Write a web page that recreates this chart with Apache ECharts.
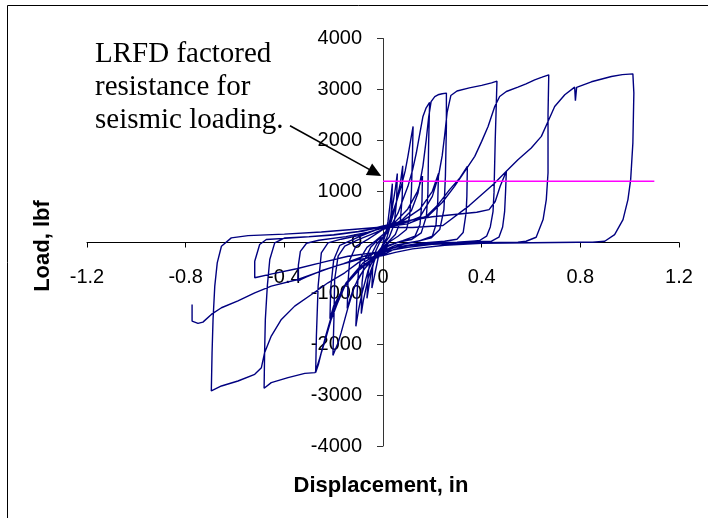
<!DOCTYPE html>
<html>
<head>
<meta charset="utf-8">
<script src="https://cdn.jsdelivr.net/npm/echarts@6/dist/echarts.min.js"></script>
<style>
  html, body { margin: 0; padding: 0; background: #fff; }
  #box { width: 708px; height: 518px; }
</style>
</head>
<body>
<div id="box"></div>
<script>
// displacement (in), load (lbf), one array per cycle
var cycleA = [[0,0],[0.01,150],[0.02,400],[0.03,800],[0.038,1150],[0.035,700],[0.028,300],[0.015,80],[0,-30],
    [-0.015,-200],[-0.03,-550],[-0.045,-900],[-0.042,-500],[-0.032,-200],[-0.015,-20],[0,80],[0.02,250],[0.035,600],
    [0.05,1050],[0.058,1350],[0.055,800],[0.045,350],[0.025,100],[0,-60],[-0.03,-250],[-0.05,-650],[-0.065,-1100],
    [-0.06,-600],[-0.048,-250],[-0.025,-30],[0,100]];
var cycleA2 = [[0,100],[0.03,350],[0.05,700],[0.07,1150],[0.08,1500],[0.078,900],[0.07,400],[0.05,150],[0.02,0],
    [0,-100],[-0.03,-300],[-0.06,-700],[-0.08,-1150],[-0.088,-1400],[-0.085,-800],[-0.075,-350],[-0.05,-100],
    [-0.02,50],[0,100]];
var cycleB = [[0,100],[0.02,200],[0.034,510],[0.055,800],[0.074,1098],[0.09,1400],[0.101,1686],[0.112,2000],[0.122,2274],
    [0.119,1621],[0.115,968],[0.108,510],[0.095,249],[0.061,118],[0.03,20],[0,-120],[-0.03,-250],[-0.06,-550],
    [-0.085,-1000],[-0.1,-1350],[-0.11,-1650],[-0.106,-1100],[-0.1,-600],[-0.09,-300],[-0.065,-100],[-0.03,30],[0,150]];
var cycleC = [[0,150],[0.03,300],[0.061,576],[0.08,830],[0.101,1098],[0.12,1420],[0.135,1752],[0.15,2150],[0.162,2470],
    [0.175,2640],[0.189,2744],[0.185,1948],[0.182,968],[0.176,510],[0.155,184],[0.115,53],[0.06,0],[0.02,-80],[0,-180],
    [-0.04,-330],[-0.08,-550],[-0.115,-862],[-0.14,-1250],[-0.155,-1515],[-0.17,-1780],[-0.182,-1972],[-0.203,-2221],
    [-0.199,-1515],[-0.196,-731],[-0.182,-274],[-0.155,-78],[-0.1,50],[-0.05,150],[0,250]];
var cycleC2 = [[0,250],[0.05,400],[0.1,650],[0.14,1000],[0.16,1300],[0.158,800],[0.15,350],[0.13,120],[0.08,30],
    [0.02,-60],[0,-150],[-0.05,-350],[-0.1,-700],[-0.13,-1050],[-0.145,-1300],[-0.142,-800],[-0.135,-350],
    [-0.11,-80],[-0.06,60],[0,250]];
var cycleD = [[0,250],[0.04,330],[0.08,450],[0.115,620],[0.142,968],[0.162,1500],[0.175,2000],[0.185,2450],[0.195,2760],
    [0.21,2860],[0.223,2895],[0.24,2915],[0.257,2928],[0.257,2274],[0.253,1294],[0.247,641],[0.23,249],[0.196,86],
    [0.14,20],[0.08,-40],[0.03,-130],[0,-220],[-0.05,-360],[-0.1,-560],[-0.155,-862],[-0.185,-1200],[-0.21,-1515],
    [-0.23,-1850],[-0.25,-2168],[-0.262,-2400],[-0.273,-2560],[-0.27,-1842],[-0.263,-862],[-0.25,-208],[-0.223,-12],
    [-0.17,60],[-0.1,130],[-0.04,220],[0,300]];
var cycleD2 = [[0,300],[0.08,420],[0.15,650],[0.2,1000],[0.225,1350],[0.222,800],[0.215,350],[0.2,120],[0.15,30],
    [0.05,-60],[0,-170],[-0.08,-400],[-0.15,-800],[-0.2,-1250],[-0.215,-1500],[-0.212,-900],[-0.2,-350],
    [-0.175,-60],[-0.1,100],[0,300]];
var cycleE = [[0,300],[0.05,330],[0.1,360],[0.176,510],[0.22,720],[0.27,1033],[0.31,1250],[0.342,1490],[0.34,900],
    [0.337,582],[0.325,190],[0.3,60],[0.25,20],[0.15,-20],[0.06,-90],[0,-170],[-0.08,-280],[-0.16,-420],[-0.25,-560],
    [-0.31,-680],[-0.345,-760],[-0.343,-450],[-0.335,-180],[-0.31,-20],[-0.26,40],[-0.15,110],[-0.06,200],[0,280]];
var cycleF = [[0,280],[0.05,330],[0.1,400],[0.15,500],[0.2,900],[0.225,1300],[0.24,1700],[0.25,2100],[0.26,2550],
    [0.275,2880],[0.3,2970],[0.35,3030],[0.4,3080],[0.44,3130],[0.462,3163],[0.458,2500],[0.455,2013],[0.45,974],
    [0.446,600],[0.435,300],[0.42,120],[0.39,30],[0.3,0],[0.2,-20],[0.1,-70],[0.04,-150],[0,-250],[-0.05,-350],
    [-0.1,-520],[-0.15,-800],[-0.2,-1300],[-0.23,-1800],[-0.255,-2250],[-0.275,-2560],[-0.317,-2574],[-0.385,-2658],
    [-0.453,-2756],[-0.482,-2867],[-0.48,-2168],[-0.477,-1515],[-0.469,-862],[-0.459,-339],[-0.439,-12],[-0.398,86],
    [-0.3,110],[-0.2,150],[-0.1,210],[0,300]];
var cycleG = [[0,300],[0.1,420],[0.2,500],[0.3,550],[0.38,590],[0.43,640],[0.455,800],[0.475,1100],[0.5,1392],
    [0.497,1000],[0.493,600],[0.485,300],[0.47,100],[0.44,20],[0.3,0],[0.15,-30],[0.05,-100],[0,-180],[-0.142,-274],
    [-0.25,-400],[-0.35,-520],[-0.45,-620],[-0.52,-698],[-0.52,-372],[-0.5,-45],[-0.473,53],[-0.35,90],[-0.2,140],
    [-0.08,220],[0,320]];
var cycleH = [[0,320],[0.1,420],[0.182,510],[0.24,780],[0.29,1098],[0.33,1380],[0.372,1686],[0.4,1980],[0.426,2274],
    [0.453,2666],[0.473,2862],[0.5,2960],[0.547,3046],[0.58,3110],[0.615,3189],[0.645,3240],[0.672,3287],[0.669,2500],
    [0.669,1360],[0.662,837],[0.649,445],[0.621,98],[0.58,20],[0.547,0],[0.4,-10],[0.2,-40],[0.1,-100],[0.03,-160],
    [0,-200],[-0.034,-208],[-0.1,-400],[-0.155,-600],[-0.223,-796],[-0.29,-1025],[-0.358,-1254],[-0.412,-1515],
    [-0.453,-1842],[-0.48,-2168],[-0.493,-2462],[-0.52,-2593],[-0.588,-2724],[-0.655,-2822],[-0.696,-2920],
    [-0.693,-2168],[-0.689,-1515],[-0.682,-862],[-0.672,-404],[-0.655,-78],[-0.615,86],[-0.547,131],[-0.4,160],
    [-0.25,200],[-0.1,260],[0,300]];
var cycleI = [[0,300],[0.12,290],[0.243,330],[0.35,720],[0.45,1150],[0.5,1392],[0.547,1621],[0.601,1850],[0.642,2078],
    [0.669,2372],[0.696,2666],[0.737,2895],[0.777,3046],[0.78,2780],[0.785,3040],[0.845,3150],[0.926,3254],[0.97,3290],
    [1.013,3306],[1.017,2928],[1.013,1948],[1.004,1229],[0.993,837],[0.973,445],[0.939,151],[0.899,20],[0.85,0],
    [0.79,0],[0.6,-10],[0.4,-20],[0.25,-60],[0.12,-130],[0.05,-200],[0,-260],[-0.1,-340],[-0.2,-480],[-0.345,-731],
    [-0.453,-862],[-0.52,-992],[-0.588,-1150],[-0.655,-1286],[-0.696,-1417],[-0.73,-1568],[-0.75,-1594],
    [-0.774,-1548],[-0.774,-1221]];

// LRFD factored resistance line
var resistX = [0, 1.1];
var resistY = [1200, 1200];

// arrow from the note to the resistance line
var arrowFrom = [-0.377, 2287];
var arrowTo = [-0.032, 1366];

var loadPath = [].concat(cycleA, cycleA2, cycleB, cycleC, cycleC2, cycleD, cycleD2, cycleE, cycleF, cycleG, cycleH, cycleI);
var resistLine = resistX.map(function (x, i) { return [x, resistY[i]]; });

var myChart = echarts.init(document.getElementById('box'));

var option = {
    animation: false,
    textStyle: { fontFamily: '"Liberation Sans", Arial, sans-serif' },
    grid: { left: 87, right: 29, top: 38.5, bottom: 72 },
    xAxis: {
        type: 'value',
        min: -1.2,
        max: 1.2,
        interval: 0.4,
        offset: -203.5, // axis crosses at load = 0
        axisLine: { onZero: false, lineStyle: { color: '#000', width: 1 } },
        axisTick: { length: 5, lineStyle: { color: '#000' } },
        axisLabel: { color: '#000', fontSize: 20, margin: 25 },
        splitLine: { show: false }
    },
    yAxis: {
        type: 'value',
        min: -4000,
        max: 4000,
        interval: 1000,
        offset: -296, // axis crosses at displacement = 0
        axisLine: { show: true, onZero: false, lineStyle: { color: '#333', width: 1 } },
        axisTick: { show: true, length: 6, lineStyle: { color: '#333' } },
        axisLabel: {
            color: '#000',
            fontSize: 20,
            margin: 21,
            formatter: function (v) { return String(v); }
        },
        splitLine: { show: false }
    },
    graphic: [
        {
            type: 'rect',
            z: -10,
            shape: { x: 7.5, y: 5.5, width: 720, height: 530 },
            style: { fill: 'none', stroke: '#000', lineWidth: 1 }
        },
        {
            type: 'text',
            left: 95,
            top: 38,
            style: {
                text: 'LRFD factored\nresistance for\nseismic loading.',
                font: '29px "Liberation Serif", "Times New Roman", serif',
                lineHeight: 33,
                fill: '#000'
            }
        },
        {
            type: 'text',
            x: 43,
            y: 246,
            rotation: Math.PI / 2,
            style: {
                text: 'Load, lbf',
                font: 'bold 22px "Liberation Sans", Arial, sans-serif',
                align: 'center',
                verticalAlign: 'middle',
                fill: '#000'
            }
        },
        {
            type: 'text',
            x: 381,
            y: 486,
            style: {
                text: 'Displacement, in',
                font: 'bold 22px "Liberation Sans", Arial, sans-serif',
                align: 'center',
                verticalAlign: 'middle',
                fill: '#000'
            }
        }
    ],
    series: [
        {
            name: 'Load',
            type: 'line',
            data: loadPath,
            showSymbol: false,
            symbol: 'none',
            lineStyle: { color: '#000080', width: 1.4 },
            silent: true
        },
        {
            name: 'LRFD',
            type: 'line',
            data: resistLine,
            showSymbol: false,
            symbol: 'none',
            lineStyle: { color: '#ff00ff', width: 1.5 },
            silent: true,
            markLine: {
                silent: true,
                symbol: ['none', 'triangle'],
                symbolSize: [13, 14],
                label: { show: false },
                lineStyle: { color: '#000', width: 1.5, type: 'solid' },
                data: [[{ coord: arrowFrom }, { coord: arrowTo }]]
            }
        }
    ]
};

myChart.setOption(option);
</script>
</body>
</html>
